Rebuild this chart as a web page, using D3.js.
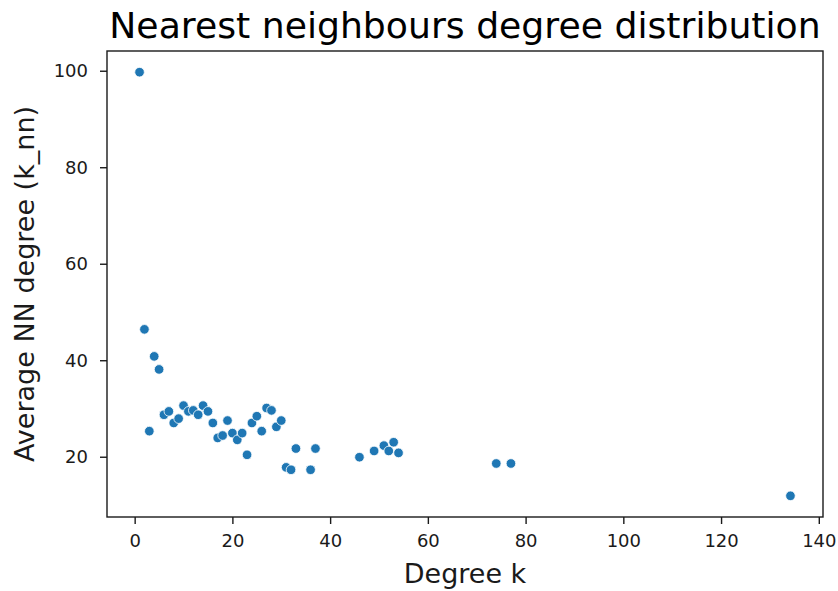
<!DOCTYPE html>
<html>
<head>
<meta charset="utf-8">
<script src="https://cdn.jsdelivr.net/npm/d3@7"></script>
<style>
  body { margin: 0; background: #fff; }
  text { font-family: "DejaVu Sans", sans-serif; fill: #1a1a1a; }
  .axis line { stroke: #1a1a1a; stroke-width: 1.4; }
</style>
</head>
<body>
<svg id="chart"></svg>
<script>
// degree k and average nearest neighbour degree
const degrees = [1, 2, 3, 4, 5, 6, 7, 8, 9, 10, 11, 12, 13, 14, 15, 16, 17, 18, 19, 20,
                 21, 22, 23, 24, 25, 26, 27, 28, 29, 30, 31, 32, 33, 36, 37,
                 46, 49, 51, 52, 53, 54, 74, 77, 134.2];
const knn = [99.7, 46.4, 25.3, 40.8, 38.1, 28.7, 29.4, 27.0, 27.9, 30.6, 29.4, 29.6, 28.7, 30.6, 29.4, 27.0, 23.9, 24.4, 27.5, 24.9,
             23.5, 24.9, 20.4, 27.0, 28.4, 25.3, 30.1, 29.6, 26.2, 27.5, 17.8, 17.3, 21.7, 17.3, 21.7,
             19.9, 21.2, 22.3, 21.2, 23.0, 20.8, 18.6, 18.6, 11.9];
const xTicks = [0, 20, 40, 60, 80, 100, 120, 140];
const yTicks = [20, 40, 60, 80, 100];

const points = degrees.map(function(d, i) {
  return {k: d, knn: knn[i]};
});

// SVG configurations
const W = 838, H = 591;
const margin = {top: 51, right: 15, bottom: 74, left: 107};
const width = W - margin.left - margin.right;
const height = H - margin.top - margin.bottom;

const svg = d3.select("#chart")
              .attr("width", W)
              .attr("height", H)
            .append("g")
              .attr("transform", `translate(${margin.left},${margin.top})`);

// matplotlib style 5% margins
function padded(ext) {
  const p = (ext[1] - ext[0]) * 0.05;
  return [ext[0] - p, ext[1] + p];
}

const xScale = d3.scaleLinear()
                 .domain(padded(d3.extent(degrees)))
                 .range([0, width]);
const yScale = d3.scaleLinear()
                 .domain(padded(d3.extent(knn)))
                 .range([height, 0]);

// X-axis
svg.append("g")
     .attr("class", "axis")
     .attr("transform", `translate(0,${height})`)
     .call(d3.axisBottom(xScale).tickValues(xTicks).tickSize(7).tickPadding(10).tickSizeOuter(0))
     .call(g => g.select(".domain").remove())
     .selectAll("text")
       .style("font-size", "18px");

// Y-axis
svg.append("g")
     .attr("class", "axis")
     .call(d3.axisLeft(yScale).tickValues(yTicks).tickSize(7).tickPadding(12).tickSizeOuter(0))
     .call(g => g.select(".domain").remove())
     .selectAll("text")
       .style("font-size", "18px");

// frame
svg.append("rect")
     .attr("x", 0)
     .attr("y", 0)
     .attr("width", width)
     .attr("height", height)
     .attr("fill", "none")
     .attr("stroke", "#1a1a1a")
     .attr("stroke-width", 1.4);

// points
svg.selectAll(".dot")
   .data(points)
   .join("circle")
     .attr("class", "dot")
     .attr("cx", d => xScale(d.k))
     .attr("cy", d => yScale(d.knn))
     .attr("r", 4.8)
     .attr("fill", "#1f77b4")
     .attr("stroke", "#fff")
     .attr("stroke-width", 0.8);

// title
svg.append("text")
     .attr("x", width / 2)
     .attr("y", -13)
     .style("text-anchor", "middle")
     .style("font-size", "36.2px")
     .style("fill", "#000")
     .text("Nearest neighbours degree distribution");

// axis labels
svg.append("text")
     .attr("x", width / 2)
     .attr("y", height + 66)
     .style("text-anchor", "middle")
     .style("font-size", "27px")
     .text("Degree k");

svg.append("text")
     .attr("transform", "rotate(-90)")
     .attr("x", -height / 2)
     .attr("y", -73)
     .style("text-anchor", "middle")
     .style("font-size", "27px")
     .text("Average NN degree (k_nn)");
</script>
</body>
</html>
